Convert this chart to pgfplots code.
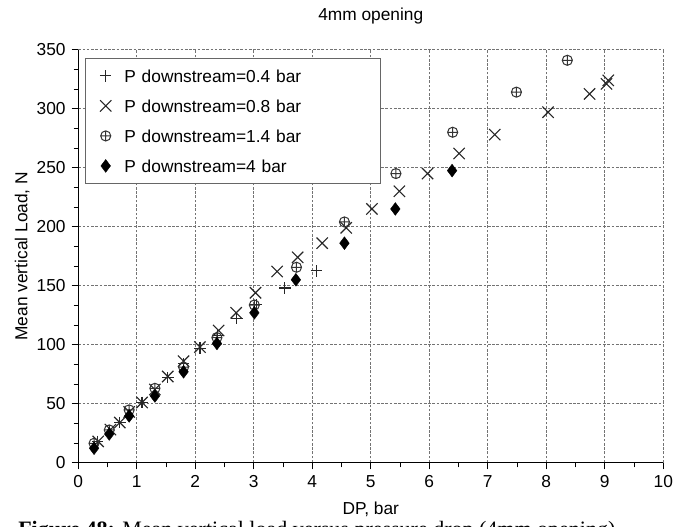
\documentclass[border=0pt]{standalone}
\usepackage{fontspec}
\setmainfont{Liberation Sans}
\newfontfamily\capfont{Liberation Serif}
\usepackage{pgfplots}
\pgfplotsset{compat=1.18}
\usetikzlibrary{plotmarks}
\begin{document}
\begin{tikzpicture}
\path[use as bounding box] (-58.7pt,-48.2pt) rectangle (458.8pt,347.0pt);
\begin{axis}[
 scale only axis, width=438.75pt, height=309.75pt,
 at={(0,0)}, anchor=south west,
 xmin=0, xmax=10, ymin=0, ymax=350,
 xtick={0,1,...,10}, ytick={0,50,...,350},
 minor x tick num=1, minor y tick num=2,
 axis x line*=bottom, axis y line*=left,
 tick align=outside,
 major tick length=5pt, minor tick length=3.5pt,
 grid=major,
 major grid style={gray!90!black, dash pattern=on 2pt off 1.2pt, line width=0.6pt},
 axis line style={black, line width=1pt},
 every tick/.style={black, line width=0.7pt},
 /pgf/number format/assume math mode=true,
 tick label style={font=\fontsize{13}{15}\selectfont},
 xticklabel style={yshift=-1pt},
 yticklabel style={xshift=-1pt},
 label style={font=\fontsize{13}{15}\selectfont},
 title style={font=\fontsize{13}{15}\selectfont, at={(axis description cs:0.5,1)}, anchor=center, yshift=19.5pt},
 xlabel style={at={(axis description cs:0.5,0)}, anchor=center, yshift=-35pt},
 ylabel style={at={(axis description cs:0,0.5)}, anchor=center, rotate=0, yshift=42pt},
 xlabel={DP, bar}, ylabel={Mean vertical Load, N}, title={4mm opening},
 legend cell align=left,
 legend style={at={(axis description cs:0.0115,0.980)}, anchor=north west,
   draw=gray!80!black, line width=0.9pt, fill=white,
   inner xsep=10.8pt, inner ysep=1.8pt, row sep=0pt,
   font=\fontsize{13}{15}\selectfont,
   nodes={text height=14pt, text depth=4.5pt, inner sep=2pt},
   /tikz/every even column/.append style={text width=179.5pt},
   /tikz/every odd column/.append style={column sep=7.7pt}},
]
\addplot[only marks, mark=+, mark size=4.3pt, black!85, line width=0.85pt] coordinates {
(0.33,18) (0.71,34) (1.09,51) (1.53,72) (1.80,84) (2.08,97) (2.38,108)
(2.71,122) (3.04,134) (3.53,148) (4.07,162.5)};
\addlegendentry{P downstream=0.4 bar}
\addplot[only marks, mark=x, mark size=6pt, black!85, line width=0.85pt] coordinates {
(0.34,18) (0.55,28) (0.71,34) (0.87,43) (1.09,51) (1.31,62) (1.53,73) (1.80,86)
(2.08,98) (2.40,112) (2.70,127) (3.03,144) (3.40,162) (3.75,174) (4.17,186)
(4.58,199) (5.02,215) (5.49,230) (5.97,245) (6.51,262) (7.12,278) (8.03,297)
(8.74,312.5) (9.03,321) (9.06,324)};
\addlegendentry{P downstream=0.8 bar}
\addplot[only marks, mark=oplus, mark size=3.8pt, black!80, line width=0.75pt] coordinates {
(0.27,16.4) (0.53,27.7) (0.87,44.7) (1.31,63) (1.80,81) (2.37,106) (3.01,133.6)
(3.73,165.6) (4.55,204) (5.43,245) (6.40,280) (7.49,314) (8.36,341)};
\addlegendentry{P downstream=1.4 bar}
\addplot[only marks, mark=diamond*, mark size=4.8pt, black, line width=0.3pt] coordinates {
(0.27,12.2) (0.53,24.3) (0.87,39.6) (1.31,56.5) (1.80,77) (2.37,101) (3.01,127)
(3.72,155) (4.55,186) (5.42,215) (6.39,247.5)};
\addlegendentry{P downstream=4 bar}
\end{axis}
\node[anchor=base west, font=\capfont\fontsize{16.5}{18}\selectfont, inner sep=0pt] at (-45.2pt,-55.4pt)
 {\textbf{Figure 48:} Mean vertical load versus pressure drop (4mm opening)};
\end{tikzpicture}
\end{document}
